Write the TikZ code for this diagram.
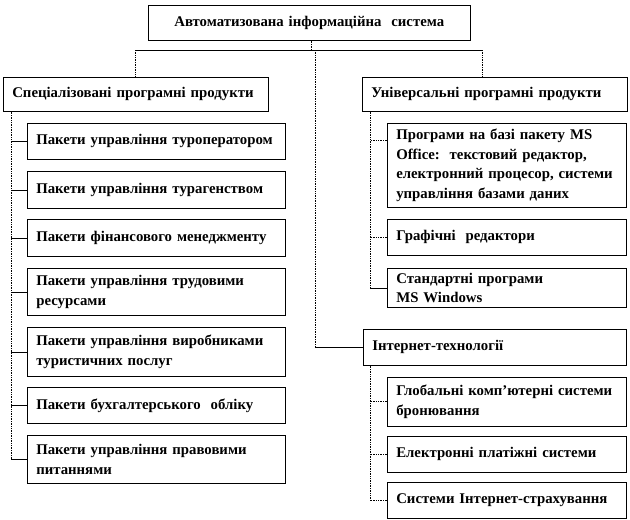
\documentclass[tikz,border=0pt]{standalone}
\usepackage{fontspec}
\setmainfont{Liberation Serif}
\usetikzlibrary{positioning,calc}

\begin{document}
\begin{tikzpicture}[x=1pt,y=-1pt,b/.style={draw=black,line width=0.6pt,fill=white,anchor=north west,inner xsep=9pt,inner ysep=0pt,align=left,font=\fontsize{14.8}{19.5}\selectfont\bfseries},
a/.style={line width=0.6pt},d/.style={line width=0.7pt,densely dotted}]
\useasboundingbox (0,0) rectangle (630,520);
% верхній рівень
\node[b,align=center,text width=304pt,minimum height=35pt] (top) at (148,5) {Автоматизована інформаційна\ \ система};
\node[b,text width=247pt,minimum height=34pt] (spec) at (3,77) {Спеціалізовані програмні продукти};
\node[b,text width=247pt,minimum height=34pt] (univ) at (362,77) {Універсальні програмні продукти};
\node[b,text width=245pt,minimum height=36pt] (inet) at (363,329) {Інтернет-технології};
% спеціалізовані
\node[b,text width=240pt,minimum height=36pt] (p1) at (27,123) {Пакети управління туроператором};
\node[b,text width=240pt,minimum height=37pt] (p2) at (27,171) {Пакети управління турагенством};
\node[b,text width=240pt,minimum height=37pt] (p3) at (27,219) {Пакети фінансового менеджменту};
\node[b,text width=240pt,minimum height=47pt] (p4) at (27,268) {Пакети управління трудовими\\ресурсами};
\node[b,text width=240pt,minimum height=49pt] (p5) at (27,327) {Пакети управління виробниками\\туристичних послуг};
\node[b,text width=240pt,minimum height=36pt] (p6) at (27,387) {Пакети бухгалтерського\ \ обліку};
\node[b,text width=240pt,minimum height=48pt] (p7) at (27,435) {Пакети управління правовими\\питаннями};
% універсальні
\node[b,text width=221pt,minimum height=84pt] (u1) at (387,123) {Програми на базі пакету MS\\Office:\ \ текстовий редактор,\\електронний процесор, системи\\управління базами даних};
\node[b,text width=221pt,minimum height=36pt] (u2) at (387,219) {Графічні\ \ редактори};
\node[b,text width=221pt,minimum height=39pt] (u3) at (387,268) {Стандартні програми\\MS Windows};
% інтернет
\node[b,text width=221pt,minimum height=49pt] (i1) at (387,377) {Глобальні комп'ютерні системи\\бронювання};
\node[b,text width=221pt,minimum height=36pt] (i2) at (387,436) {Електронні платіжні системи};
\node[b,text width=221pt,minimum height=36pt] (i3) at (387,482) {Системи Інтернет-страхування};
% з'єднання
\coordinate (hub) at (311,50); \coordinate (mid) at (315,50);
\coordinate (lt) at (11,0); \coordinate (rt) at (370,0); \coordinate (ur) at (482,0);
\draw[d] (top.south -| hub)--(hub);
\draw[a] (hub -| spec.north)--(hub -| ur);
\draw[d] (hub -| spec.north)--(spec.north); \draw[d] (hub -| ur)--(univ.north -| ur);
\draw[d] (mid)--(mid |- inet.west); \draw[a] (mid |- inet.west)--(inet.west);
\draw[d] (lt |- spec.south)--(lt |- p7.west);
\draw[a] (p1.west)--(p1.west -| lt); \draw[a] (p2.west)--(p2.west -| lt);
\draw[a] (p3.west)--(p3.west -| lt); \draw[a] (p4.west)--(p4.west -| lt);
\draw[a] (p5.west)--(p5.west -| lt); \draw[a] (p6.west)--(p6.west -| lt);
\draw[a] (p7.west)--(p7.west -| lt);
\coordinate (u1b) at ($(u1.north west)+(0,17)$);
\draw[d] (rt |- univ.south)--(rt |- u3.west);
\draw[d] (u1b)--(u1b -| rt); \draw[d] (u2.west)--(u2.west -| rt); \draw[a] (u3.west)--(u3.west -| rt);
\draw[d] (rt |- inet.south)--(rt |- i3.west);
\draw[d] (i1.west)--(i1.west -| rt); \draw[d] (i2.west)--(i2.west -| rt); \draw[d] (i3.west)--(i3.west -| rt);
\end{tikzpicture}
\end{document}
